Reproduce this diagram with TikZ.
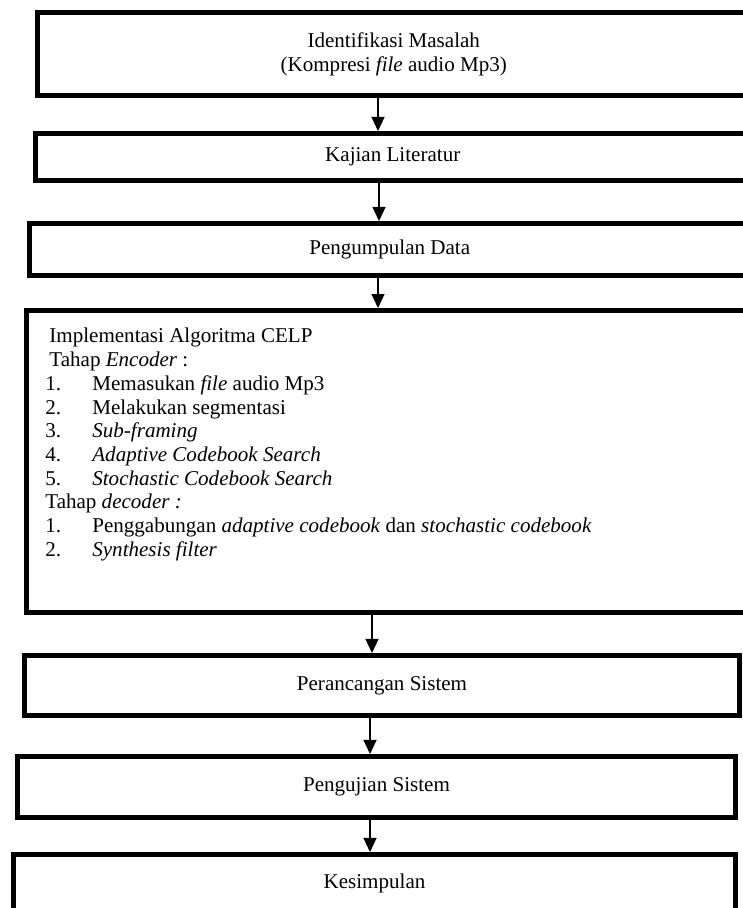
\documentclass[tikz,border=0pt]{standalone}
\usepackage{fontspec}
\setmainfont{Liberation Serif}
\usepackage{tikz}
\usetikzlibrary{arrows.meta}

\newcommand{\listnum}[1]{\makebox[26.8pt][l]{#1}}

\begin{document}
\begin{tikzpicture}[x=0.57pt,y=-0.57pt]
		\tikzstyle{stage}=[draw,rectangle,line width=2.85pt,inner sep=0pt,align=center,font=\fontsize{12pt}{13.5pt}\selectfont]
		\tikzstyle{flow}=[line width=0.75pt,-{Triangle[length=8pt,width=7.4pt]}]
		\useasboundingbox (0,0) rectangle (743,908);

		% tahap awal
		\node[stage,minimum width=406.1pt,minimum height=47.3pt] (masalah) at (393.75,54)
			{Identifikasi Masalah\\(Kompresi \textit{file} audio Mp3)};
		\node[stage,minimum width=407.3pt,minimum height=26.8pt] (kajian) at (392.75,157) {Kajian Literatur};
		\node[stage,minimum width=410.7pt,minimum height=29.6pt] (data) at (389.75,249.5) {Pengumpulan Data};

		% implementasi CELP
		\node[stage,minimum width=412.4pt,minimum height=172.1pt] (celp) at (388.25,461.5) {};
		\node[anchor=north west,inner sep=0pt,align=left,font=\fontsize{12pt}{13.5pt}\selectfont] (langkah) at (45,328)
			{\hspace*{2.3pt}Implementasi Algoritma CELP\\
			 \hspace*{2.3pt}Tahap \textit{Encoder} :\\
			 \listnum{1.}Memasukan \textit{file} audio Mp3\\
			 \listnum{2.}Melakukan segmentasi\\
			 \listnum{3.}\textit{Sub-framing}\\
			 \listnum{4.}\textit{Adaptive Codebook Search}\\
			 \listnum{5.}\textit{Stochastic Codebook Search}\\
			 Tahap \textit{decoder :}\\
			 \listnum{1.}Penggabungan \textit{adaptive codebook} dan \textit{stochastic codebook}\\
			 \listnum{2.}\textit{Synthesis filter}};

		% tahap akhir
		\node[stage,minimum width=407.6pt,minimum height=34.2pt] (rancang) at (382,685.5) {Perancangan Sistem};
		\node[stage,minimum width=409.3pt,minimum height=34.8pt] (uji) at (376.5,787) {Pengujian Sistem};
		\node[stage,minimum width=411.5pt,minimum height=32.8pt] (simpul) at (374.5,883.25) {Kesimpulan};

		\draw[flow] (masalah.south -| 378,0) -- (kajian.north -| 378,0);
		\draw[flow] (kajian.south -| 379,0) -- (data.north -| 379,0);
		\draw[flow] (data.south -| 378,0) -- (celp.north -| 378,0);
		\draw[flow] (celp.south -| 372,0) -- (rancang.north -| 372,0);
		\draw[flow] (rancang.south -| 370,0) -- (uji.north -| 370,0);
		\draw[flow] (uji.south -| 370,0) -- (simpul.north -| 370,0);
\end{tikzpicture}
\end{document}
